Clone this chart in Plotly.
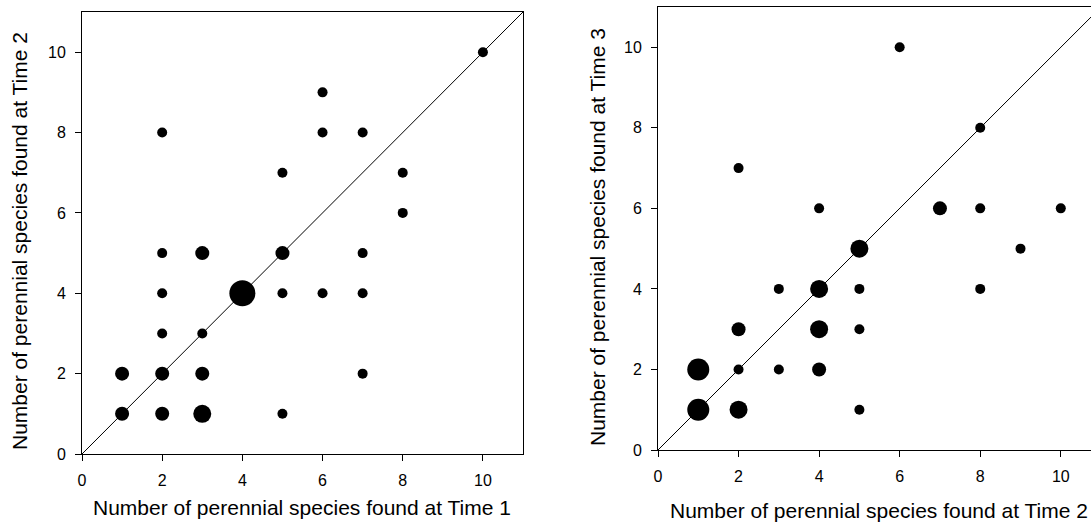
import plotly.graph_objects as go

# ---- data: (Time1, Time2, count) for left panel ----
t1_x = [10, 6, 2, 6, 7, 5, 8, 8, 2, 3, 5, 7, 2, 4, 5, 6, 7, 2, 3, 1, 2, 3, 7, 1, 2, 3, 5]
t1_y = [10, 9, 8, 8, 8, 7, 7, 6, 5, 5, 5, 5, 4, 4, 4, 4, 4, 3, 3, 2, 2, 2, 2, 1, 1, 1, 1]
t1_n = [1, 1, 1, 1, 1, 1, 1, 1, 1, 2, 2, 1, 1, 5, 1, 1, 1, 1, 1, 2, 2, 2, 1, 2, 2, 3, 1]

# ---- data: (Time2, Time3, count) for right panel ----
t2_x = [6, 8, 2, 4, 7, 8, 10, 5, 9, 3, 4, 5, 8, 2, 4, 5, 1, 2, 3, 4, 1, 2, 5]
t2_y = [10, 8, 7, 6, 6, 6, 6, 5, 5, 4, 4, 4, 4, 3, 3, 3, 2, 2, 2, 2, 1, 1, 1]
t2_n = [1, 1, 1, 1, 2, 1, 1, 3, 1, 1, 3, 1, 1, 2, 3, 1, 4, 1, 1, 2, 4, 3, 1]

tick_vals = [0, 2, 4, 6, 8, 10]
axis_max = 11

x_title_1 = "Number of perennial species found at Time 1"
y_title_1 = "Number of perennial species found at Time 2"
x_title_2 = "Number of perennial species found at Time 2"
y_title_2 = "Number of perennial species found at Time 3"

W, H = 1091, 527
FONT = "Arial, 'Liberation Sans', sans-serif"


def diam(counts):
    return [6 + 4 * c for c in counts]


fig = go.Figure()

# 1:1 lines
for xa, ya in (("x", "y"), ("x2", "y2")):
    fig.add_trace(go.Scatter(x=[0, axis_max], y=[0, axis_max], mode="lines",
                             line=dict(color="black", width=1),
                             xaxis=xa, yaxis=ya, hoverinfo="skip"))

fig.add_trace(go.Scatter(x=t1_x, y=t1_y, mode="markers",
                         marker=dict(color="black", opacity=1, size=diam(t1_n), line=dict(width=0)),
                         xaxis="x", yaxis="y", cliponaxis=False))
fig.add_trace(go.Scatter(x=t2_x, y=t2_y, mode="markers",
                         marker=dict(color="black", opacity=1, size=diam(t2_n), line=dict(width=0)),
                         xaxis="x2", yaxis="y2", cliponaxis=False))

common = dict(showgrid=False, zeroline=False, showline=True, linecolor="black",
              linewidth=1, ticks="outside", ticklen=6, tickwidth=1, tickcolor="black",
              tickvals=tick_vals, tickfont=dict(family=FONT, size=16, color="black"))

fig.update_layout(
    template="none",
    width=W, height=H,
    margin=dict(l=0, r=0, t=0, b=0),
    paper_bgcolor="white", plot_bgcolor="white",
    showlegend=False,
    font=dict(family=FONT, color="black"),
    xaxis=dict(domain=[82 / W, 523 / W], range=[0, axis_max], mirror=True,
               anchor="y", ticklabelstandoff=6, **common),
    yaxis=dict(domain=[(H - 454) / H, (H - 12) / H], range=[0, axis_max], mirror=True,
               anchor="x", ticklabelstandoff=6, **common),
    xaxis2=dict(domain=[658 / W, 1.0], range=[0, 10.75], mirror=True,
                anchor="y2", ticklabelstandoff=6, **common),
    yaxis2=dict(domain=[(H - 450) / H, (H - 7) / H], range=[0, axis_max], mirror=False,
                anchor="x2", ticklabelstandoff=6, **common),
)

ann_font = dict(family=FONT, size=21, color="black")
fig.add_annotation(text=x_title_1, xref="paper", yref="paper", x=302 / W, y=1 - 507 / H,
                   showarrow=False, font=ann_font, xanchor="center", yanchor="middle")
fig.add_annotation(text=y_title_1, xref="paper", yref="paper", x=20 / W, y=1 - 241 / H,
                   showarrow=False, font=ann_font, textangle=-90, xanchor="center", yanchor="middle")
fig.add_annotation(text=x_title_2, xref="paper", yref="paper", x=879 / W, y=1 - 510 / H,
                   showarrow=False, font=ann_font, xanchor="center", yanchor="middle")
fig.add_annotation(text=y_title_2, xref="paper", yref="paper", x=597 / W, y=1 - 237 / H,
                   showarrow=False, font=ann_font, textangle=-90, xanchor="center", yanchor="middle")

fig.write_html("out.html")
